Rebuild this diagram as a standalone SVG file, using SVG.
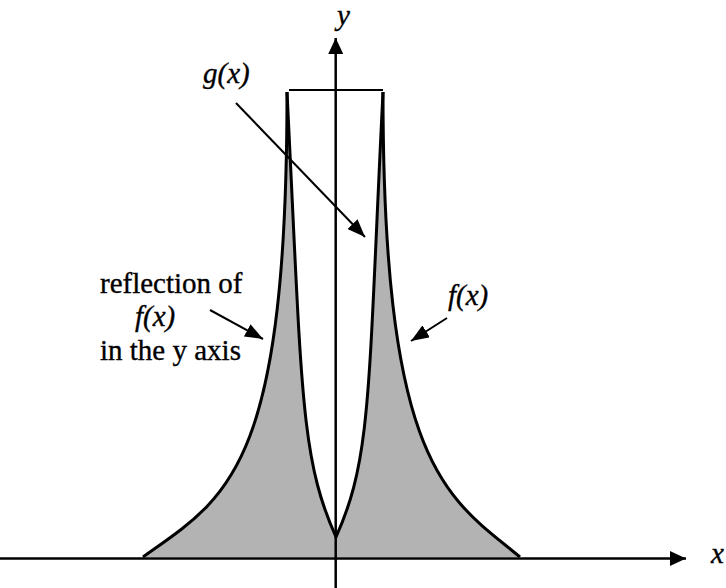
<svg xmlns="http://www.w3.org/2000/svg" width="726" height="588" viewBox="0 0 726 588">
  <style>
    .lbl { font-family: "Liberation Serif", "Times New Roman", Times, serif; font-size: 29px; fill: #000; stroke: #000; stroke-width: 0.35; }
    .it { font-style: italic; }
    .curve { fill: none; stroke: #000; stroke-width: 3; stroke-linejoin: miter; }
    .axis { fill: none; stroke: #000; stroke-width: 2.5; }
    .ptr { fill: none; stroke: #000; stroke-width: 2; }
  </style>
  <defs>
    <marker id="head" markerUnits="userSpaceOnUse" viewBox="0 0 18 14" refX="18" refY="7" markerWidth="18" markerHeight="14" orient="auto">
      <path d="M0,0 L18,7 L0,14 z" fill="#000"/>
    </marker>
    <marker id="axhead" markerUnits="userSpaceOnUse" viewBox="0 0 16 15" refX="16" refY="7.5" markerWidth="16" markerHeight="15" orient="auto">
      <path d="M0,0 L16,7.5 L0,15 z" fill="#000"/>
    </marker>
  </defs>

  <g id="region">
    <path fill="#b3b3b3" stroke="none" d="M143,557 C227,497 287,472 287,92 C302,392 300,457 336,537 C372,457 368,392 383,92 C383,472 448,497 520,557 Z"/>
  </g>

  <g id="curves">
    <path id="f-reflection" class="curve" d="M287,92 C287,472 227,497 143,557"/>
    <path id="f" class="curve" d="M383,92 C383,472 448,497 520,557"/>
    <path id="g" class="curve" d="M287,92 C302,392 300,457 336,537 C372,457 368,392 383,92"/>
    <line id="top" x1="289" y1="90" x2="383" y2="90" stroke="#000" stroke-width="2"/>
  </g>

  <g id="axes">
    <line class="axis" x1="0" y1="558.5" x2="686" y2="558.5" marker-end="url(#axhead)"/>
    <line class="axis" x1="335.7" y1="588" x2="335.7" y2="38" marker-end="url(#axhead)"/>
    <text class="lbl it" x="711" y="563">x</text>
    <text class="lbl it" x="337" y="25">y</text>
  </g>

  <g id="connectors">
    <line class="ptr" x1="236" y1="103" x2="365" y2="237" marker-end="url(#head)"/>
    <line class="ptr" x1="210" y1="310" x2="263" y2="339" marker-end="url(#head)"/>
    <line class="ptr" x1="447" y1="318" x2="411" y2="341" marker-end="url(#head)"/>
  </g>

  <g id="label-g">
    <text class="lbl it" x="203" y="83">g(x)</text>
  </g>
  <g id="label-reflection">
    <text class="lbl" x="100" y="293">reflection of</text>
    <text class="lbl it" x="135" y="326">f(x)</text>
    <text class="lbl" x="100" y="360">in the y axis</text>
  </g>
  <g id="label-f">
    <text class="lbl it" x="448" y="305">f(x)</text>
  </g>
</svg>
